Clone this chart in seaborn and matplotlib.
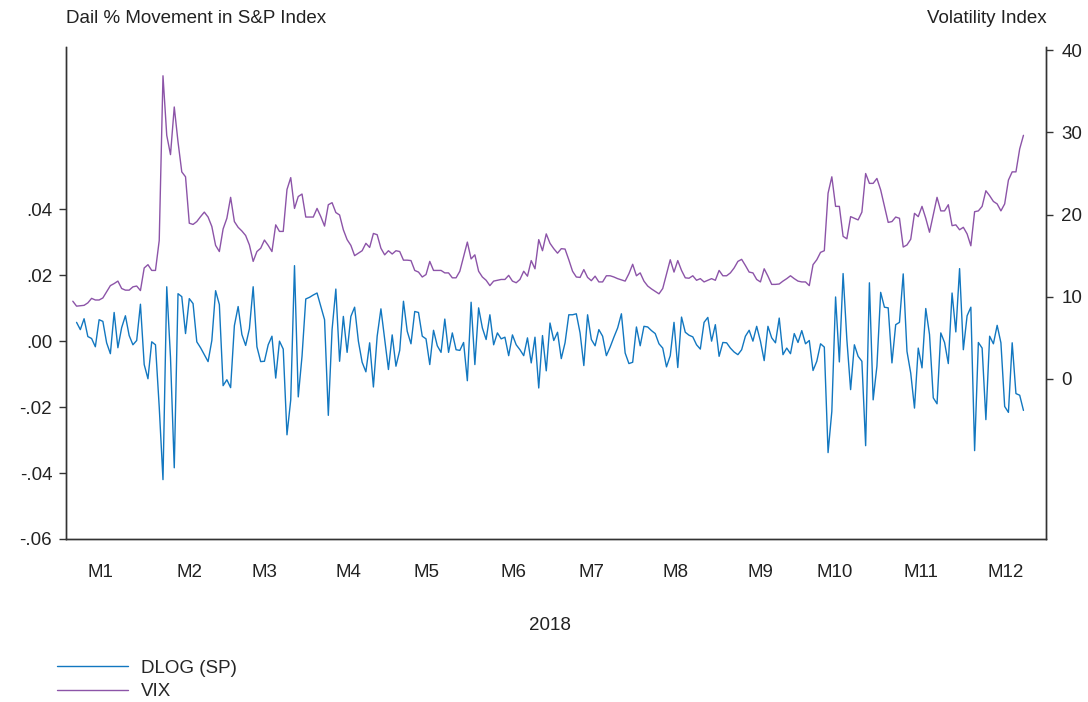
import numpy as np
import pandas as pd
import matplotlib
matplotlib.use("Agg")
import matplotlib.pyplot as plt
import seaborn as sns

# daily log change of the S&P index (first obs missing) and the VIX level
dlog_sp = [
    np.nan, 0.0057, 0.0035, 0.0068, 0.0014, 0.0008, -0.0017, 0.0065, 0.0060, -0.0005,
    -0.0038, 0.0087, -0.0020, 0.0041, 0.0077, 0.0017, -0.0011, 0.0002, 0.0112, -0.0071,
    -0.0114, -0.0002, -0.0011, -0.0200, -0.0420, 0.0165, -0.0050, -0.0384, 0.0144, 0.0135,
    0.0023, 0.0129, 0.0114, -0.0002, -0.0020, -0.0041, -0.0062, 0.0002, 0.0153, 0.0111,
    -0.0135, -0.0117, -0.0141, 0.0047, 0.0105, 0.0020, -0.0013, 0.0038, 0.0165, -0.0017,
    -0.0062, -0.0061, -0.0011, 0.0015, -0.0112, 0.0000, -0.0024, -0.0284, -0.0178, 0.0229,
    -0.0169, -0.0046, 0.0128, 0.0133, 0.0140, 0.0146, 0.0106, 0.0065, -0.0225, 0.0035,
    0.0158, -0.0061, 0.0075, -0.0034, 0.0075, 0.0103, 0.0000, -0.0064, -0.0093, -0.0005,
    -0.0139, 0.0015, 0.0098, 0.0005, -0.0086, 0.0019, -0.0076, -0.0028, 0.0121, 0.0030,
    -0.0008, 0.0090, 0.0087, 0.0015, 0.0007, -0.0071, 0.0033, -0.0014, -0.0034, 0.0067,
    -0.0034, 0.0025, -0.0026, -0.0028, -0.0004, -0.0120, 0.0118, -0.0071, 0.0101, 0.0040,
    0.0005, 0.0080, -0.0011, 0.0025, 0.0007, 0.0012, -0.0044, 0.0019, -0.0011, -0.0026,
    -0.0044, 0.0010, -0.0066, 0.0012, -0.0142, 0.0017, -0.0090, 0.0055, 0.0002, 0.0027,
    -0.0053, -0.0005, 0.0080, 0.0080, 0.0083, 0.0025, -0.0074, 0.0080, 0.0005, -0.0014,
    0.0035, 0.0015, -0.0044, -0.0018, 0.0012, 0.0040, 0.0083, -0.0036, -0.0068, -0.0064,
    0.0043, -0.0014, 0.0045, 0.0043, 0.0032, 0.0023, -0.0008, -0.0021, -0.0078, -0.0044,
    0.0057, -0.0080, 0.0073, 0.0027, 0.0018, 0.0013, -0.0011, -0.0024, 0.0057, 0.0072,
    0.0000, 0.0050, -0.0046, -0.0004, -0.0005, -0.0021, -0.0033, -0.0041, -0.0026, 0.0015,
    0.0033, 0.0000, 0.0045, 0.0000, -0.0059, 0.0045, 0.0010, -0.0005, 0.0070, -0.0041,
    -0.0021, -0.0038, 0.0023, -0.0004, 0.0032, -0.0008, 0.0002, -0.0089, -0.0061, -0.0008,
    -0.0018, -0.0338, -0.0213, 0.0134, -0.0063, 0.0205, 0.0005, -0.0147, -0.0011, -0.0046,
    -0.0061, -0.0317, 0.0177, -0.0178, -0.0076, 0.0148, 0.0103, 0.0101, -0.0066, 0.0050,
    0.0057, 0.0204, -0.0031, -0.0097, -0.0203, -0.0021, -0.0081, 0.0099, 0.0020, -0.0172,
    -0.0190, 0.0025, -0.0004, -0.0068, 0.0146, 0.0028, 0.0220, -0.0026, 0.0077, 0.0103,
    -0.0332, -0.0004, -0.0021, -0.0238, 0.0015, -0.0008, 0.0048, -0.0005, -0.0198, -0.0216,
    -0.0005, -0.0159, -0.0164, -0.0210,
]

vix = [
    9.45, 8.85, 8.9, 8.95, 9.25, 9.8, 9.6, 9.6, 9.85, 10.6,
    11.35, 11.6, 11.9, 11.0, 10.8, 10.8, 11.2, 11.3, 10.75, 13.5,
    13.9, 13.2, 13.2, 16.85, 36.9, 29.65, 27.3, 33.1, 28.85, 25.2,
    24.6, 18.95, 18.8, 19.15, 19.75, 20.3, 19.7, 18.55, 16.25, 15.5,
    18.25, 19.55, 22.1, 19.15, 18.45, 18.0, 17.45, 16.3, 14.3, 15.5,
    15.9, 16.9, 16.25, 15.5, 18.75, 17.95, 17.95, 23.05, 24.5, 20.75,
    22.2, 22.5, 19.7, 19.7, 19.7, 20.75, 19.75, 18.6, 21.2, 21.45,
    20.25, 19.95, 18.15, 16.95, 16.25, 15.0, 15.3, 15.6, 16.5, 16.0,
    17.7, 17.55, 15.9, 15.1, 15.6, 15.2, 15.6, 15.5, 14.45, 14.45,
    14.4, 13.2, 13.0, 12.4, 12.7, 14.3, 13.2, 13.2, 13.2, 12.9,
    12.9, 12.3, 12.3, 13.1, 14.9, 16.65, 14.6, 15.1, 13.1, 12.4,
    12.0, 11.35, 11.9, 12.0, 12.1, 12.1, 12.6, 11.9, 11.7, 12.1,
    13.1, 12.5, 14.4, 13.4, 16.95, 15.6, 17.65, 16.5, 15.85, 15.3,
    15.85, 15.8, 14.5, 13.1, 12.4, 12.35, 13.3, 12.35, 11.95, 12.5,
    11.8, 11.8, 12.55, 12.55, 12.4, 12.2, 12.05, 11.9, 12.8, 13.95,
    12.55, 12.9, 11.9, 11.3, 10.95, 10.65, 10.35, 11.0, 12.75, 14.5,
    13.0, 14.4, 13.2, 12.3, 12.25, 12.55, 12.0, 12.2, 11.8, 12.0,
    12.2, 12.0, 13.2, 12.55, 12.55, 12.9, 13.5, 14.3, 14.55, 13.8,
    13.0, 12.9, 12.1, 11.8, 13.4, 12.5, 11.5, 11.5, 11.55, 11.9,
    12.2, 12.55, 12.2, 11.9, 11.8, 11.8, 11.35, 13.9, 14.5, 15.4,
    15.6, 22.6, 24.6, 21.0, 21.0, 17.35, 17.05, 19.75, 19.55, 19.35,
    20.3, 25.0, 23.8, 23.8, 24.4, 23.0, 21.0, 19.05, 19.15, 19.7,
    19.55, 16.05, 16.3, 17.0, 20.15, 19.75, 21.0, 19.55, 17.85, 19.95,
    22.1, 20.45, 20.45, 21.2, 18.65, 18.75, 18.15, 18.45, 17.65, 16.2,
    20.35, 20.45, 21.0, 22.9, 22.3, 21.6, 21.3, 20.45, 21.3, 24.2,
    25.2, 25.2, 28.0, 29.65,
]

month_labels = ["M1", "M2", "M3", "M4", "M5", "M6", "M7", "M8", "M9", "M10", "M11", "M12"]
month_pos = [7.3, 31.0, 51.1, 73.3, 94.0, 117.2, 138.1, 160.3, 183.0, 202.7, 225.7, 248.3]

left_ticks = [-0.06, -0.04, -0.02, 0.00, 0.02, 0.04]
left_tick_labels = ["-.06", "-.04", "-.02", ".00", ".02", ".04"]
right_ticks = [0, 10, 20, 30, 40]

df = pd.DataFrame({"obs": np.arange(len(vix)), "dlog_sp": dlog_sp, "vix": vix})

sns.set_style("white")
plt.rcParams["font.family"] = ["Liberation Sans", "DejaVu Sans"]

blue = "#1277c0"
purple = "#8c54a8"
axis_col = "#333333"
txt_col = "#222222"
fs = 13.5

fig = plt.figure(figsize=(10.88, 7.02), dpi=100)
ax = fig.add_axes([0.0607, 0.2322, 0.9007, 0.7008])
ax2 = ax.twinx()

sns.lineplot(data=df, x="obs", y="dlog_sp", ax=ax, color=blue, linewidth=1.0, legend=False)
sns.lineplot(data=df, x="obs", y="vix", ax=ax2, color=purple, linewidth=1.0, legend=False)

n = len(vix)
ax.set_xlim(-1.8, n - 1 + 6.0)
ax.set_ylim(-0.06, 0.0892)
ax2.set_ylim(-19.5, 40.4)

ax.set_yticks(left_ticks)
ax.set_yticklabels(left_tick_labels)
ax2.set_yticks(right_ticks)
ax.set_xticks(month_pos)
ax.set_xticklabels(month_labels)

for a in (ax, ax2):
    a.spines["top"].set_visible(False)
    for s in ("left", "right", "bottom"):
        a.spines[s].set_color(axis_col)
        a.spines[s].set_linewidth(1.0)
    a.set_xlabel("")
    a.set_ylabel("")

ax.tick_params(axis="y", direction="out", length=5, width=1, color=axis_col, labelsize=fs, pad=5, labelcolor=txt_col)
ax.tick_params(axis="x", direction="out", length=6, width=1, color=axis_col, labelsize=fs, pad=12, labelcolor=txt_col)
ax2.tick_params(axis="y", direction="out", length=5, width=1, color=axis_col, labelsize=fs, pad=6, labelcolor=txt_col)

ax.set_xlabel("2018", fontsize=fs, labelpad=22, color=txt_col)
ax.xaxis.set_label_coords(0.494, -0.158)

fig.text(0.0607, 0.974, "Dail % Movement in S&P Index", fontsize=fs, ha="left", va="center", color=txt_col)
fig.text(0.962, 0.974, "Volatility Index", fontsize=fs, ha="right", va="center", color=txt_col)

handles = ax.get_lines()[:1] + ax2.get_lines()[:1]
fig.legend(handles, ["DLOG (SP)", "VIX"], loc="upper left", bbox_to_anchor=(0.052, 0.060),
           frameon=False, fontsize=fs, handlelength=3.8, handletextpad=0.7, labelspacing=0.32,
           borderaxespad=0, borderpad=0)

fig.savefig("out.png", dpi=100)
